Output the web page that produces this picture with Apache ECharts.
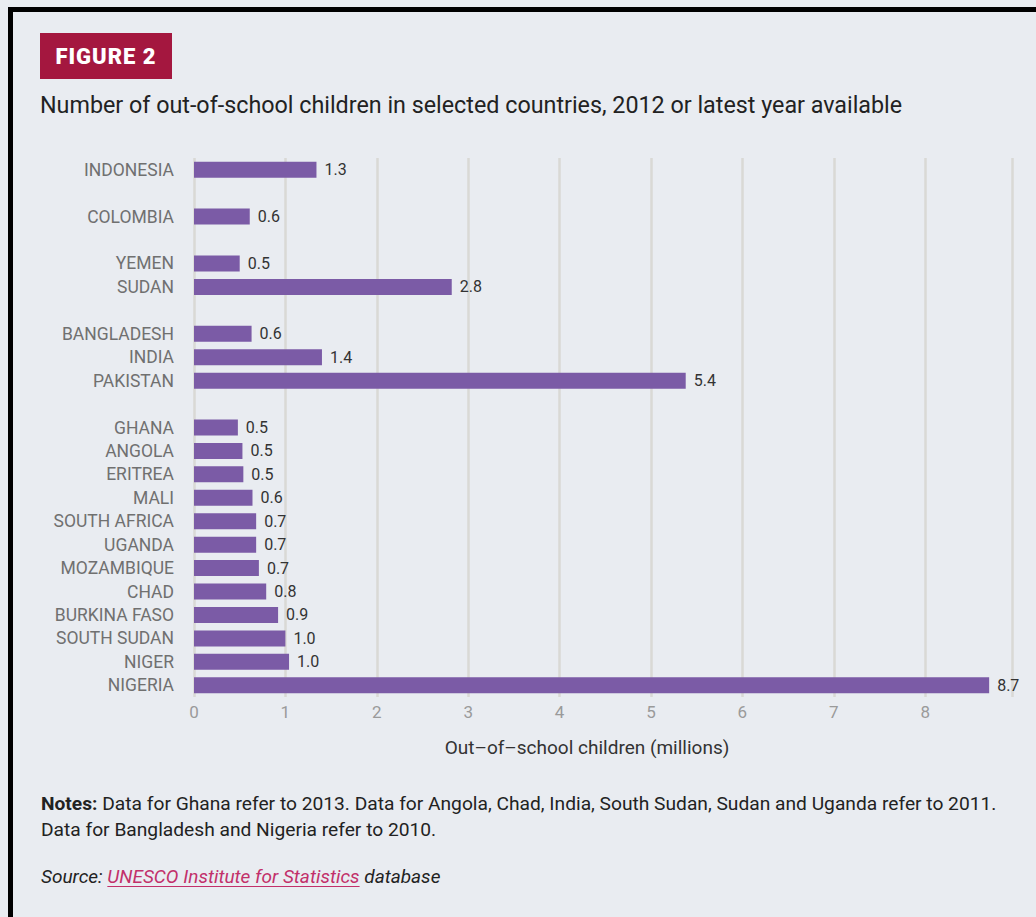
<!DOCTYPE html>
<html>
<head>
<meta charset="utf-8">
<script src="https://cdn.jsdelivr.net/npm/echarts@6/dist/echarts.min.js"></script>
<style>
  html, body { margin: 0; padding: 0; width: 1036px; height: 917px; overflow: hidden; background: #e9ecf1; font-family: Roboto, "Noto Sans", sans-serif; }
  #frame { position: absolute; left: 8px; top: 7px; width: 1040px; height: 930px; border-left: 5px solid #000; border-top: 5px solid #000; box-sizing: border-box; }
  #chart { position: absolute; left: 0; top: 0; width: 1036px; height: 917px; }
  #badge { position: absolute; left: 40px; top: 33px; width: 132px; height: 46px; background: #a4173f; color: #fff; font-weight: 900; font-size: 22px; line-height: 47px; text-align: center; letter-spacing: 1px; }
  #subtitle { position: absolute; left: 40px; top: 91px; font-size: 23.3px; color: #222; white-space: nowrap; }
  #notes { position: absolute; left: 41px; top: 791px; font-size: 19.2px; line-height: 26px; color: #222; width: 990px; white-space: nowrap; }
  #source { position: absolute; left: 41px; top: 865px; font-size: 19px; color: #222; font-style: italic; }
  #source a { color: #c2306a; text-decoration: underline; text-decoration-color: #c2306a; text-underline-offset: 3px; }
</style>
</head>
<body>
<div id="chart"></div>
<div id="frame"></div>
<div id="badge">FIGURE 2</div>
<div id="subtitle">Number of out-of-school children in selected countries, 2012 or latest year available</div>
<div id="notes"><b>Notes:</b> Data for Ghana refer to 2013. Data for Angola, Chad, India, South Sudan, Sudan and Uganda refer to 2011.<br>Data for Bangladesh and Nigeria refer to 2010.</div>
<div id="source">Source: <a>UNESCO Institute for Statistics</a> database</div>
<script>
// Countries top to bottom; empty strings are the gaps between regional groups
const countries = ["INDONESIA", "", "COLOMBIA", "", "YEMEN", "SUDAN", "", "BANGLADESH", "INDIA", "PAKISTAN", "",
  "GHANA", "ANGOLA", "ERITREA", "MALI", "SOUTH AFRICA", "UGANDA", "MOZAMBIQUE", "CHAD", "BURKINA FASO",
  "SOUTH SUDAN", "NIGER", "NIGERIA"];
// Out-of-school children (millions); null for the gaps
const values = [1.34, null, 0.61, null, 0.50, 2.82, null, 0.63, 1.40, 5.38, null,
  0.48, 0.53, 0.54, 0.64, 0.68, 0.68, 0.71, 0.79, 0.92, 1.00, 1.04, 8.70];
const xTicks = [0, 1, 2, 3, 4, 5, 6, 7, 8];
const xAxisName = "Out\u2013of\u2013school children (millions)";

const chart = echarts.init(document.getElementById('chart'), null, { renderer: 'svg' });
chart.setOption({
  backgroundColor: '#e9ecf1',
  animation: false,
  grid: { left: 194, right: 24, top: 158, bottom: 220, containLabel: false },
  xAxis: {
    type: 'value', min: xTicks[0], max: 8.95, interval: 1,
    axisLine: { show: false }, axisTick: { show: false },
    splitLine: { show: true, lineStyle: { color: '#d9d9d5', width: 2.5 } },
    axisLabel: { color: '#9a9a9a', fontSize: 17, margin: 6, fontFamily: 'Roboto',
      formatter: v => xTicks.includes(v) ? String(v) : '' },
    name: xAxisName, nameLocation: 'middle', nameGap: 41,
    nameTextStyle: { color: '#333', fontSize: 19, fontFamily: 'Roboto', padding: [0, 32, 0, 0] }
  },
  yAxis: {
    type: 'category', data: countries, inverse: true,
    axisLine: { show: false }, axisTick: { show: false },
    axisLabel: { color: '#707070', fontSize: 17.5, margin: 20, fontFamily: 'Roboto' }
  },
  series: [{
    type: 'bar', data: values, barWidth: 16,
    itemStyle: { color: '#7b5ba6' },
    label: { show: true, position: 'right', distance: 8, color: '#333', fontSize: 16, fontFamily: 'Roboto',
      formatter: p => p.value == null ? '' : p.value.toFixed(1) }
  }]
});
</script>
</body>
</html>
